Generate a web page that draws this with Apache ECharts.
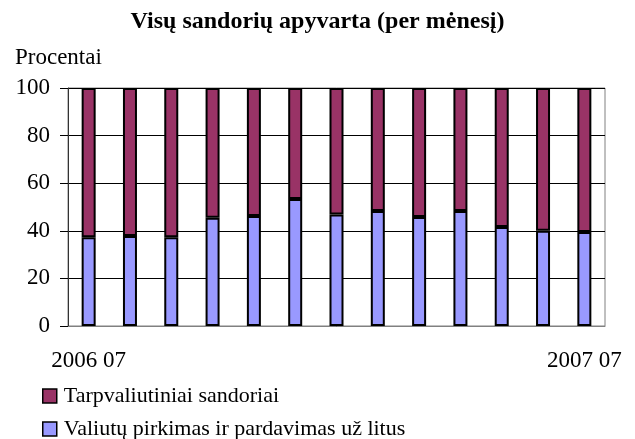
<!DOCTYPE html>
<html>
<head>
<meta charset="utf-8">
<script src="https://cdn.jsdelivr.net/npm/echarts@6/dist/echarts.min.js"></script>
<style>
  html, body { margin: 0; padding: 0; background: #fff; }
  #chart { width: 635px; height: 439px; }
</style>
</head>
<body>
<div id="chart"></div>
<script>
var months = ['2006 07', '2006 08', '2006 09', '2006 10', '2006 11', '2006 12', '2007 01',
              '2007 02', '2007 03', '2007 04', '2007 05', '2007 06', '2007 07']
var shownLabels = ['2006 07', '2007 07'] // only first and last month are labelled
var valiutuLitai = [37.3, 37.8, 37.3, 45.5, 46.2, 53.4, 46.9, 48.3, 45.8, 48.3, 41.6, 40.0, 39.5]
var tarpvaliutiniai = [62.7, 62.2, 62.7, 54.5, 53.8, 46.6, 53.1, 51.7, 54.2, 51.7, 58.4, 60.0, 60.5]

var font = 'Liberation Serif, Times New Roman, serif'
var chart = echarts.init(document.getElementById('chart'))
chart.setOption({
  animation: false,
  title: {
    text: 'Visų sandorių apyvarta (per mėnesį)',
    left: 'center',
    top: 10,
    padding: 0,
    textStyle: { fontFamily: font, fontSize: 24, fontWeight: 'bold', color: '#000' }
  },
  graphic: [{
    type: 'text',
    left: 15,
    top: 46,
    style: { text: 'Procentai', font: '23px ' + font, fill: '#000' }
  }],
  legend: {
    orient: 'vertical',
    left: 42,
    top: 385,
    height: 90, // keep both items in one column
    padding: 0,
    itemWidth: 14,
    itemHeight: 14,
    itemGap: 11,
    icon: 'rect',
    itemStyle: { borderColor: '#000', borderWidth: 1.5 },
    textStyle: { fontFamily: font, fontSize: 22, lineHeight: 14, color: '#000', padding: [0, 0, 0, 2] },
    data: ['Tarpvaliutiniai sandoriai', 'Valiutų pirkimas ir pardavimas už litus']
  },
  grid: {
    left: 68,
    right: 30,
    top: 88,
    bottom: 113,
    show: true,
    borderColor: '#808080',
    borderWidth: 1
  },
  xAxis: {
    type: 'category',
    data: months,
    axisLine: { lineStyle: { color: '#808080', width: 1 } },
    axisTick: { inside: true, length: 5, interval: 0, lineStyle: { color: '#000' } },
    axisLabel: {
      interval: 0,
      margin: 23,
      fontFamily: font,
      fontSize: 23,
      color: '#000',
      formatter: function (v) { return shownLabels.indexOf(v) >= 0 ? v : '' }
    }
  },
  yAxis: {
    type: 'value',
    min: 0,
    max: 100,
    interval: 20,
    axisLine: { show: true, lineStyle: { color: '#333', width: 1 } },
    axisTick: { show: true, length: 8, lineStyle: { color: '#000' } },
    splitLine: { lineStyle: { color: '#000', width: 1 } },
    axisLabel: { margin: 18, fontFamily: font, fontSize: 23, color: '#000' }
  },
  series: [
    {
      name: 'Valiutų pirkimas ir pardavimas už litus',
      type: 'bar',
      stack: 'all',
      barWidth: 14,
      data: valiutuLitai,
      itemStyle: { color: '#9999FF', borderColor: '#000', borderWidth: 2 }
    },
    {
      name: 'Tarpvaliutiniai sandoriai',
      type: 'bar',
      stack: 'all',
      barWidth: 14,
      data: tarpvaliutiniai,
      itemStyle: { color: '#993366', borderColor: '#000', borderWidth: 2 }
    }
  ]
})
</script>
</body>
</html>
